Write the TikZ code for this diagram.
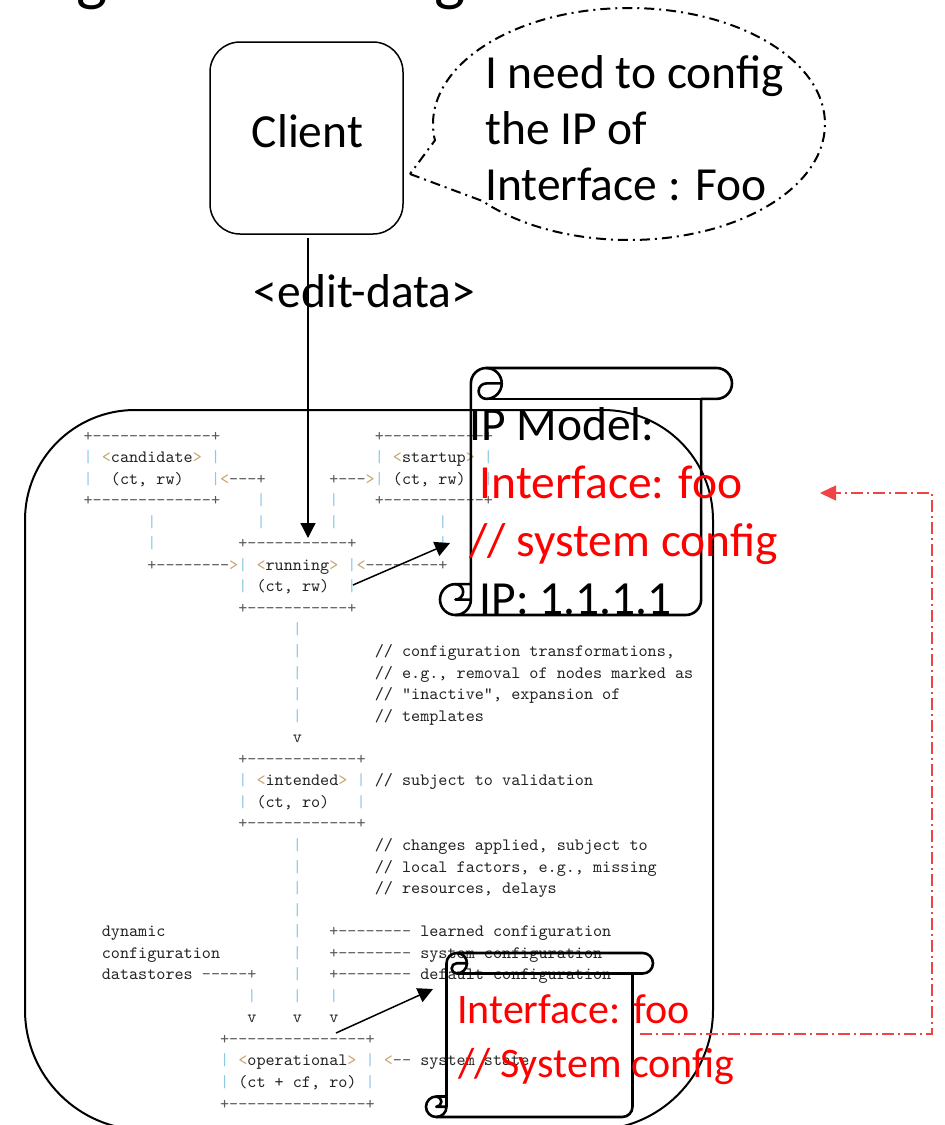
\documentclass[tikz,border=0pt]{standalone}
\usepackage{fontspec}
\setmainfont{Carlito}
\setmonofont{lmmono10-regular.otf}
\usetikzlibrary{arrows.meta}

\definecolor{barc}{HTML}{8CC8E6}
\definecolor{angc}{HTML}{C9A36E}
\definecolor{dashc}{HTML}{5A5A5A}
\definecolor{asctxt}{HTML}{222222}
\definecolor{linkred}{HTML}{F04444}

% pieces of the datastore sketch, each one character cell wide
\newcommand\VB{\textcolor{barc}{|}}
\newcommand\AL{\textcolor{angc}{<}}
\newcommand\AR{\textcolor{angc}{>}}
\newcommand\DS[1]{\textcolor{dashc}{#1}}
\newcommand\SP[1]{\hspace*{#1\dimexpr 0.525em\relax}}
% one line of the sketch: row number, content
\newcommand\arow[2]{\node[asc] (row#1) at (83.45,{-(441+21.55*#1)}) {#2};}

% vertical scroll: style, left, top, right, bottom (y measured downwards)
\newcommand\drawscroll[5]{%
  \pgfmathsetmacro\scL{#2}\pgfmathsetmacro\scT{-(#3)}%
  \pgfmathsetmacro\scR{#4}\pgfmathsetmacro\scB{-(#5)}%
  \pgfmathsetmacro\scC{0.125*min(#4-#2,#5-#3)}%
  \pgfmathsetmacro\scH{\scC/2}\pgfmathsetmacro\scQ{\scC/4}%
  \draw[#1] (\scL+\scC,\scB+\scC) -- (\scL+\scC,\scT-\scH)
     arc[start angle=180,end angle=90,radius=\scH]
     -- (\scR-\scH,\scT) arc[start angle=90,end angle=-90,radius=\scH]
     -- (\scR-\scC,\scT-\scC) -- (\scR-\scC,\scB+\scH)
     arc[start angle=0,end angle=-90,radius=\scH]
     -- (\scL+\scH,\scB) arc[start angle=270,end angle=90,radius=\scH] -- cycle;
  \draw[#1] (\scL+\scC+\scH,\scT) arc[start angle=90,end angle=-90,radius=\scH]
     arc[start angle=270,end angle=90,radius=\scQ] -- (\scL+2*\scC,\scT-\scH);
  \draw[#1] (\scR-\scC,\scT-\scC) -- (\scL+\scC+\scH,\scT-\scC);
  \draw[#1] (\scL+\scH,\scB+\scC) arc[start angle=90,end angle=-90,radius=\scQ]
     -- (\scL+\scC,\scB+\scH);
  \draw[#1] (\scL+\scH,\scB) arc[start angle=270,end angle=360,radius=\scH]
     -- (\scL+\scC,\scB+\scC);
}

\begin{document}
\begin{tikzpicture}[x=1pt,y=1pt,
  calib/.style={font=\fontsize{47.5}{57}\selectfont, inner sep=0pt},
  bline/.style={calib, anchor=base west},
  small/.style={font=\fontsize{42}{50}\selectfont, inner sep=0pt, anchor=base west},
  asc/.style={anchor=base west, inner sep=0pt, text=asctxt,
              font=\ttfamily\fontsize{17.33}{20}\selectfont},
  scrollline/.style={line width=2.6pt, line join=round},
  bubbleline/.style={line width=2pt, dash pattern=on 10pt off 5pt on 2pt off 5pt},
  redlink/.style={linkred, line width=1.5pt, dash pattern=on 12pt off 4pt on 2pt off 4pt},
  bigtip/.style={-{Triangle[length=15pt,width=15pt]}},
  headfrag/.style={anchor=base, inner sep=0pt, font=\fontsize{66}{66}\selectfont}]

\useasboundingbox (0,0) rectangle (945,-1125);

% descenders of the heading above
\node[headfrag] (headA) at (92,2) {g};
\node[headfrag] (headB) at (450,2) {g};

% client and its thought bubble
\node[draw, line width=1.5pt, rounded corners=30pt, minimum width=193pt,
      minimum height=192pt, inner sep=0pt] (client) at (306.5,-138) {};
\node[calib, anchor=base] (clientlbl) at (307.5,-147) {Client};

\coordinate (bubblec) at (629,-124);
\coordinate (tailtip) at (410,-174);
\draw[bubbleline] (tailtip) -- ([shift={(bubblec)}]221.6:196 and 116)
   arc[start angle=221.6, end angle=548.1, x radius=196, y radius=116] -- cycle;
\node[bline] (say1) at (485,-88) {I need to config};
\node[bline] (say2) at (485,-144) {the IP of};
\node[bline] (say3) at (485,-200) {Interface : Foo};

% device boundary
\draw[line width=2pt] (25,-1010) -- (25,-520) arc[start angle=180,end angle=90,radius=110]
  -- (603,-410) arc[start angle=90,end angle=0,radius=110]
  -- (713,-1010) arc[start angle=0,end angle=-90,radius=120]
  -- (145,-1130) arc[start angle=270,end angle=180,radius=120] -- cycle;

% datastore sketch
\arow{0}{\DS{+-------------+}\SP{17}\DS{+-----------+}}
\arow{1}{\VB\SP{1}\AL candidate\AR\SP{1}\VB\SP{17}\VB\SP{1}\AL startup\AR\SP{1}\VB}
\arow{2}{\VB\SP{2}(ct, rw)\SP{3}\VB\AL\DS{---+}\SP{7}\DS{+---}\AR\VB\SP{1}(ct, rw)\SP{2}\VB}
\arow{3}{\DS{+-------------+}\SP{4}\VB\SP{7}\VB\SP{4}\DS{+-----------+}}
\arow{4}{\SP{7}\VB\SP{11}\VB\SP{7}\VB\SP{11}\VB}
\arow{5}{\SP{7}\VB\SP{9}\DS{+-----------+}\SP{9}\VB}
\arow{6}{\SP{7}\DS{+--------}\AR\VB\SP{1}\AL running\AR\SP{1}\VB\AL\DS{--------+}}
\arow{7}{\SP{17}\VB\SP{1}(ct, rw)\SP{2}\VB}
\arow{8}{\SP{17}\DS{+-----------+}}
\arow{9}{\SP{23}\VB}
\arow{10}{\SP{23}\VB\SP{8}// configuration transformations,}
\arow{11}{\SP{23}\VB\SP{8}// e.g., removal of nodes marked as}
\arow{12}{\SP{23}\VB\SP{8}// "inactive", expansion of}
\arow{13}{\SP{23}\VB\SP{8}// templates}
\arow{14}{\SP{23}v}
\arow{15}{\SP{17}\DS{+------------+}}
\arow{16}{\SP{17}\VB\SP{1}\AL intended\AR\SP{1}\VB\SP{1}// subject to validation}
\arow{17}{\SP{17}\VB\SP{1}(ct, ro)\SP{3}\VB}
\arow{18}{\SP{17}\DS{+------------+}}
\arow{19}{\SP{23}\VB\SP{8}// changes applied, subject to}
\arow{20}{\SP{23}\VB\SP{8}// local factors, e.g., missing}
\arow{21}{\SP{23}\VB\SP{8}// resources, delays}
\arow{22}{\SP{23}\VB}
\arow{23}{\SP{2}dynamic\SP{14}\VB\SP{3}\DS{+--------}\SP{1}learned configuration}
\arow{24}{\SP{2}configuration\SP{8}\VB\SP{3}\DS{+--------}\SP{1}system configuration}
\arow{25}{\SP{2}datastores\SP{1}\DS{-----+}\SP{4}\VB\SP{3}\DS{+--------}\SP{1}default configuration}
\arow{26}{\SP{18}\VB\SP{4}\VB\SP{3}\VB}
\arow{27}{\SP{18}v\SP{4}v\SP{3}v}
\arow{28}{\SP{15}\DS{+---------------+}}
\arow{29}{\SP{15}\VB\SP{1}\AL operational\AR\SP{1}\VB\SP{1}\AL\DS{--}\SP{1}system state}
\arow{30}{\SP{15}\VB\SP{1}(ct + cf, ro)\SP{1}\VB}
\arow{31}{\SP{15}\DS{+---------------+}}

% scrolls with the interface data
\drawscroll{scrollline}{440}{368}{732}{615}
\drawscroll{scrollline}{426}{953}{653}{1117}

\node[bline] (ipm1) at (469,-440) {IP Model:};
\node[bline, text=red] (ipm2) at (479.5,-498) {Interface: foo};
\node[bline, text=red] (ipm3) at (469,-556) {// system config};
\node[bline] (ipm4) at (479.5,-614) {IP: 1.1.1.1};

\node[small, text=red] (sys1) at (457,-1023) {Interface: foo};
\node[small, text=red] (sys2) at (458,-1077) {// System config};

% edit-data request
\node[calib, anchor=base] (editlbl) at (364.5,-307) {<edit-data>};
\coordinate (editS) at (308,-238);
\coordinate (runTop) at (308,-538);
\draw[line width=1.3pt, bigtip] (editS) -- (runTop);

% datastores to scrolls
\coordinate (runR) at (353,-585);
\coordinate (scrollA) at (450,-543);
\draw[line width=1.5pt, bigtip] (runR) -- (scrollA);
\coordinate (operT) at (336,-1033);
\coordinate (scrollB) at (433,-989);
\draw[line width=1.5pt, bigtip] (operT) -- (scrollB);

% system configuration feeding the IP model
\coordinate (redS) at (640,-1034);
\coordinate (redE) at (820,-493);
\draw[redlink, -{Triangle[length=16pt,width=15pt]}] (redS) -- (932,-1034) |- (redE);

\end{tikzpicture}
\end{document}
